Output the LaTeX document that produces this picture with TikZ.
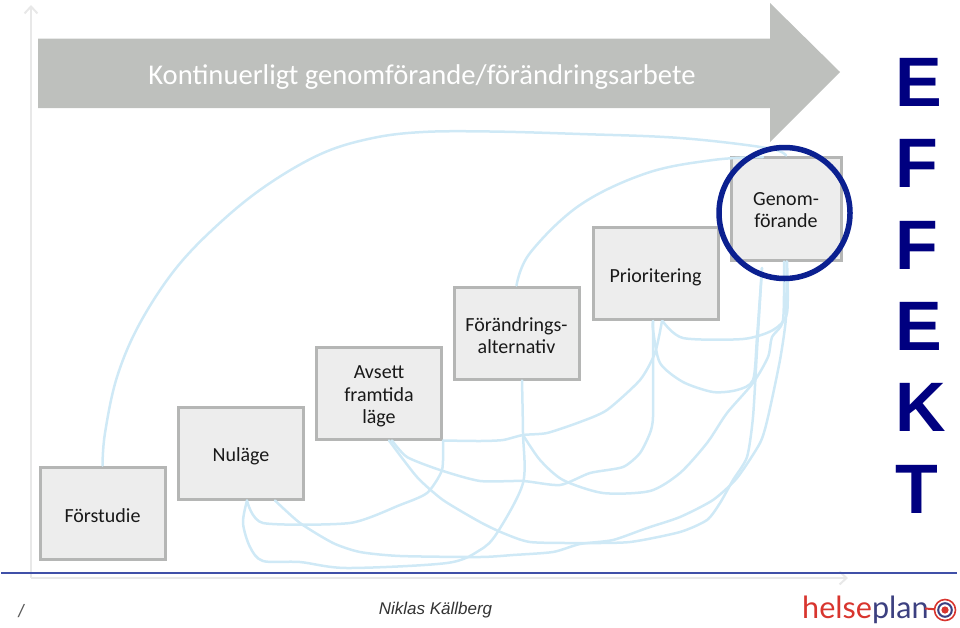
\documentclass[tikz,border=0pt]{standalone}
\usepackage{fontspec}
\setmainfont{Carlito}
\newfontfamily\arialf{Liberation Sans}
\newfontfamily\logof{Lato}
\usetikzlibrary{arrows.meta}
\definecolor{boxfill}{HTML}{EDEDED}
\definecolor{boxline}{HTML}{B5B6B5}
\definecolor{bandgrey}{HTML}{BEC0BD}
\definecolor{curve}{HTML}{CFE9F6}
\definecolor{ringblue}{HTML}{0B2090}
\definecolor{rule}{HTML}{4050A8}
\definecolor{axisgrey}{HTML}{E8E8E8}
\definecolor{navyt}{HTML}{000080}
\definecolor{logored}{HTML}{D8352E}
\definecolor{logoblue}{HTML}{3C4080}
\tikzset{
 stage/.style={draw=boxline,fill=boxfill,line width=3pt,inner sep=0pt,minimum width=125pt,minimum height=92pt},
 stagetext/.style={align=center,inner sep=0pt,font=\fontsize{20}{22.7}\selectfont,text=black!90},
 flow/.style={draw=curve,line width=2.5pt,line cap=round,line join=round},
 axisline/.style={draw=axisgrey,line width=2pt,-{Straight Barb[length=7pt,width=13pt,line width=2pt]}},
}
\begin{document}
\begin{tikzpicture}[x=1pt,y=-1pt]
\useasboundingbox (0,0) rectangle (960,627);
% axes
\coordinate (orig) at (31,578);
\coordinate (ytip) at (31,5);
\coordinate (xtip) at (848,578);
\draw[axisline] (orig) -- (ytip);
\draw[axisline] (orig) -- (xtip);
% band arrow
\fill[bandgrey] (38,38.5) -- (770,38.5) -- (770,3) -- (840,72) -- (770,142) -- (770,108) -- (38,108) -- cycle;
\node[text=white,font=\fontsize{28.6}{32}\selectfont] (band) at (422,77) {Kontinuerligt genomförande/förändringsarbete};
% boxes
\node[stage,label={[stagetext,yshift=-2.5pt]center:Förstudie}] (fs) at (102.5,513) {};
\node[stage,label={[stagetext,yshift=-3pt]center:Nuläge}] (nu) at (241,453) {};
\node[stage,label={[stagetext,yshift=-3.5pt]center:Avsett\\framtida\\läge}] (av) at (379,393) {};
\node[stage,label={[stagetext,yshift=-2.5pt]center:Förändrings-\\alternativ}] (fo) at (516.5,333) {};
\node[stage,label={[stagetext,yshift=-3.5pt]center:Prioritering}] (pr) at (655.5,273.5) {};
\node[stage,minimum width=110pt,minimum height=103pt,label={[stagetext,yshift=-1.5pt]center:Genom-\\förande}] (ge) at (786,208.5) {};
% rule
\coordinate (ruleL) at (1,573);
\coordinate (ruleR) at (957,573);
\draw[rule,line width=1.5pt] (ruleL) -- (ruleR);
% curves
\draw[flow] plot[smooth,tension=0.6] coordinates {(fs.north) (105,433) (117,377) (140,323) (177,267) (223,220) (270,183) (323,153) (373,138) (423,132) (490,131.5) (580,134) (680,138) (767,148) (ge.north)};
\draw[flow] plot[smooth,tension=0.6] coordinates {(fo.north) (530,253) (580,205) (647,173) (713,160) (763,157)};
\draw[flow] plot[smooth,tension=0.4] coordinates {([xshift=6pt]nu.south) (263,523) (350,523) (400,505) (427,493) (442,470) ([xshift=64pt]av.south)};
\draw[flow] plot[smooth,tension=0.4] coordinates {([xshift=64pt]av.south) (480,441) (503,440) (523,435) (547,433) (580,422) (607,410) (640,380) (655,353) ([xshift=6.5pt]pr.south)};
\draw[flow] plot[smooth,tension=0.4] coordinates {([xshift=34pt]nu.south) (300,523) (333,543) (360,552) (400,556) (480,557) (513,555) (553,552) (580,544) (613,540) (647,528) (680,517) (713,500) (737,478) (760,443) (768,417) (780,360) (786,317) ([xshift=0.5pt]ge.south)};
\draw[flow] plot[smooth,tension=0.4] coordinates {([xshift=10pt]av.south) (417,477) (443,500) (480,522) (503,533) (530,542) (580,543) (630,542) (680,532) (707,520) (720,503) (733,480) (747,457) (753,417) (757,350) (762,268)};
\draw[flow] plot[smooth,tension=0.4] coordinates {([xshift=13pt]av.south) (407,457) (440,470) (480,481) (523,481) (560,485) (590,473) (623,467) (640,453) (650,433) (653,417) (653,360) ([xshift=-2.5pt]pr.south)};
\draw[flow] plot[smooth,tension=0.5] coordinates {([xshift=6pt]nu.south) (243,523) (250,547) (263,561) (300,562) (347,568) (447,563) (480,550) (497,533) (523,483) (523,433) ([xshift=5.5pt]fo.south)};
\draw[flow] plot[smooth,tension=0.45] coordinates {(523,435) (540,460) (563,480) (603,493) (650,491) (680,473) (707,443) (727,413) (753,383) (768,357) (772,337) (783,320) ([xshift=-2pt]ge.south)};
\draw[flow] plot[smooth,tension=0.45] coordinates {([xshift=-2.5pt]pr.south) (653,330) (660,363) (683,382) (713,392) (737,390) (753,380) (757,337) (762,268)};
\draw[flow] plot[smooth,tension=0.45] coordinates {([xshift=7pt]pr.south) (683,338) (743,339) (773,330) (787,313) ([xshift=1pt]ge.south)};
% ring
\node[draw=ringblue,line width=5.5pt,circle,minimum size=131pt,inner sep=0pt] (ring) at (784.5,213) {};
% EFFEKT
\node[anchor=north west,inner sep=0pt,align=left,text=navyt,font=\arialf\bfseries\fontsize{70}{81.4}\selectfont] (eff) at (895.5,58) {E\\F\\F\\E\\K\\T};
% footer
\node[text=black!65,font=\arialf\itshape\fontsize{18}{20}\selectfont] (slash) at (21,611) {/};
\node[text=black!80,font=\arialf\itshape\fontsize{17}{20}\selectfont] (author) at (435.5,610) {Niklas Källberg};
% logo
\node[anchor=base west,inner sep=0pt,font=\logof\fontsize{30.6}{34}\selectfont] (logo) at (802,618) {\textcolor{logored}{helse}\textcolor{logoblue}{plan}};
\coordinate (dashL) at (925,608.5);
\coordinate (target) at (945,610);
\draw[logored,line width=2pt] (dashL) -- (target);
\fill[white] (target) circle (11);
\draw[logored,line width=1.6pt] (target) circle (10.5);
\draw[logoblue,line width=2pt] (target) circle (6.8);
\fill[logored] (target) circle (3.6);
\end{tikzpicture}
\end{document}
